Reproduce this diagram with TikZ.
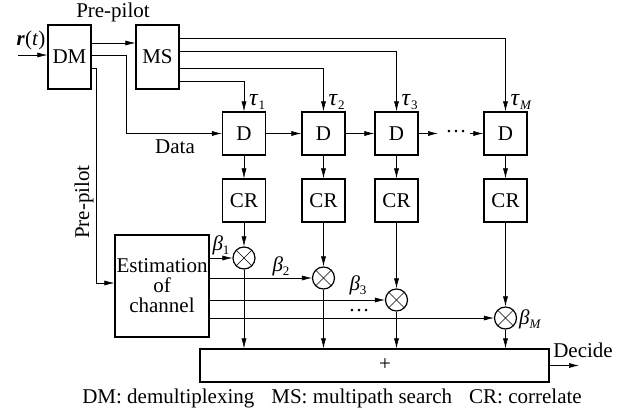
\documentclass[tikz,border=0pt]{standalone}
\usepackage{fontspec}
\setmainfont{Liberation Serif}
\usetikzlibrary{arrows.meta}
\newcommand{\gsub}[2]{\textit{#1}\raisebox{-4pt}{\fontsize{13}{13}\selectfont #2}}
\newcommand{\biggreek}[1]{{\fontsize{24}{24}\selectfont\textit{#1}}}
\begin{document}
\begin{tikzpicture}[x=1pt,y=-1pt,
  font=\fontsize{21}{20}\selectfont,
  box/.style={draw,line width=1.2pt,inner sep=0pt,align=center},
  dbox/.style={box,minimum width=43pt,minimum height=43pt},
  mult/.style={draw,circle,line width=1.2pt,minimum size=22pt,inner sep=0pt,
    path picture={\draw[line width=0.6pt] (path picture bounding box.center) ++(-7.8pt,-7.8pt) -- ++(15.6pt,15.6pt);
                  \draw[line width=0.6pt] (path picture bounding box.center) ++(-7.8pt,7.8pt) -- ++(15.6pt,-15.6pt);}},
  conn/.style={line width=0.6pt},
  arr/.style={conn,-{Latex[length=10pt,width=5pt]}},
  lbl/.style={inner sep=0pt}]
\useasboundingbox (0,0) rectangle (633,414);
% main boxes
\node[box,minimum width=43pt,minimum height=64pt] (DM) at (69.5,57) {DM};
\node[box,minimum width=43pt,minimum height=64pt] (MS) at (157.5,57) {MS};
\node[dbox] (D1) at (244,133.5) {D};
\node[dbox] (D2) at (323.5,133.5) {D};
\node[dbox] (D3) at (396.5,133.5) {D};
\node[dbox] (D4) at (505.5,133.5) {D};
\node[dbox] (C1) at (244,200.5) {CR};
\node[dbox] (C2) at (323.5,200.5) {CR};
\node[dbox] (C3) at (396.5,200.5) {CR};
\node[dbox] (C4) at (505.5,200.5) {CR};
\node[mult] (X1) at (244,258) {};
\node[mult] (X2) at (323.5,278) {};
\node[mult] (X3) at (396.5,300) {};
\node[mult] (X4) at (505.5,318) {};
\node[box,minimum width=94pt,minimum height=102pt] (Est) at (162,286) {Estimation\\of\\channel};
\node[box,minimum width=349pt,minimum height=33pt] (Sum) at (374.5,365.5) {};
\node[lbl] (plus) at (385,365) {+};
% labels
\node[lbl] (pp) at (113,12) {Pre-pilot};
\node[lbl] (rt) at (31,40) {\textbf{\textit{r}}(\textit{t})};
\node[lbl] (data) at (175,147) {Data};
\node[lbl,rotate=90] (pp2) at (84,202) {Pre-pilot};
\node[lbl,anchor=west] (t1) at (249,102) {\gsub{\biggreek{τ}}{1}};
\node[lbl,anchor=west] (t2) at (328.5,102) {\gsub{\biggreek{τ}}{2}};
\node[lbl,anchor=west] (t3) at (401.5,102) {\gsub{\biggreek{τ}}{3}};
\node[lbl,anchor=west] (t4) at (510.5,102) {\gsub{\biggreek{τ}}{\textit{M}}};
\node[lbl] (b1) at (221,245) {\gsub{β}{1}};
\node[lbl] (b2) at (281,266) {\gsub{β}{2}};
\node[lbl] (b3) at (358,285) {\gsub{β}{3}};
\node[lbl,anchor=west] (b4) at (519,319) {\gsub{β}{\textit{M}}};
\node[lbl] (bdots) at (359,311) {…};
\node[lbl] (ddots) at (456,132) {…};
\node[lbl] (dec) at (583,350) {Decide};
\node[lbl] (cap) at (332,398) {DM: demultiplexing\hspace{17pt}MS: multipath search\hspace{17pt}CR: correlate};
% coordinates
\coordinate (in) at (18,55);
\coordinate (dl) at (438,133.5);
\coordinate (dr) at (470,133.5);
\coordinate (out) at (579,365.5);
% connectors
\draw[arr] (in) -- (in -| DM.west);
\draw[arr] ([yshift=14pt]DM.east) -- ([yshift=14pt]MS.west);
\draw[arr] ([yshift=2pt]DM.east) -- ++(35,0) |- (D1.west);
\draw[arr] ([yshift=-11pt]DM.east) -- ++(5,0) |- ([yshift=3pt]Est.west);
\draw[arr] ([yshift=19pt]MS.east) -| (D4.north);
\draw[arr] ([yshift=6pt]MS.east) -| (D3.north);
\draw[arr] ([yshift=-11pt]MS.east) -| (D2.north);
\draw[arr] ([yshift=-24pt]MS.east) -| (D1.north);
\draw[arr] (D1) -- (D2);
\draw[arr] (D2) -- (D3);
\draw[arr] (D3.east) -- (dl);
\draw[arr] (dr) -- (D4.west);
\foreach \i in {1,2,3,4}{
  \draw[arr] (D\i) -- (C\i);
  \draw[arr] (C\i) -- (X\i);
  \draw[arr] (X\i) -- (X\i |- Sum.north);
  \draw[arr] (Est.east |- X\i) -- (X\i.west);
}
\draw[arr] (Sum.east |- out) -- (out);
\end{tikzpicture}
\end{document}
